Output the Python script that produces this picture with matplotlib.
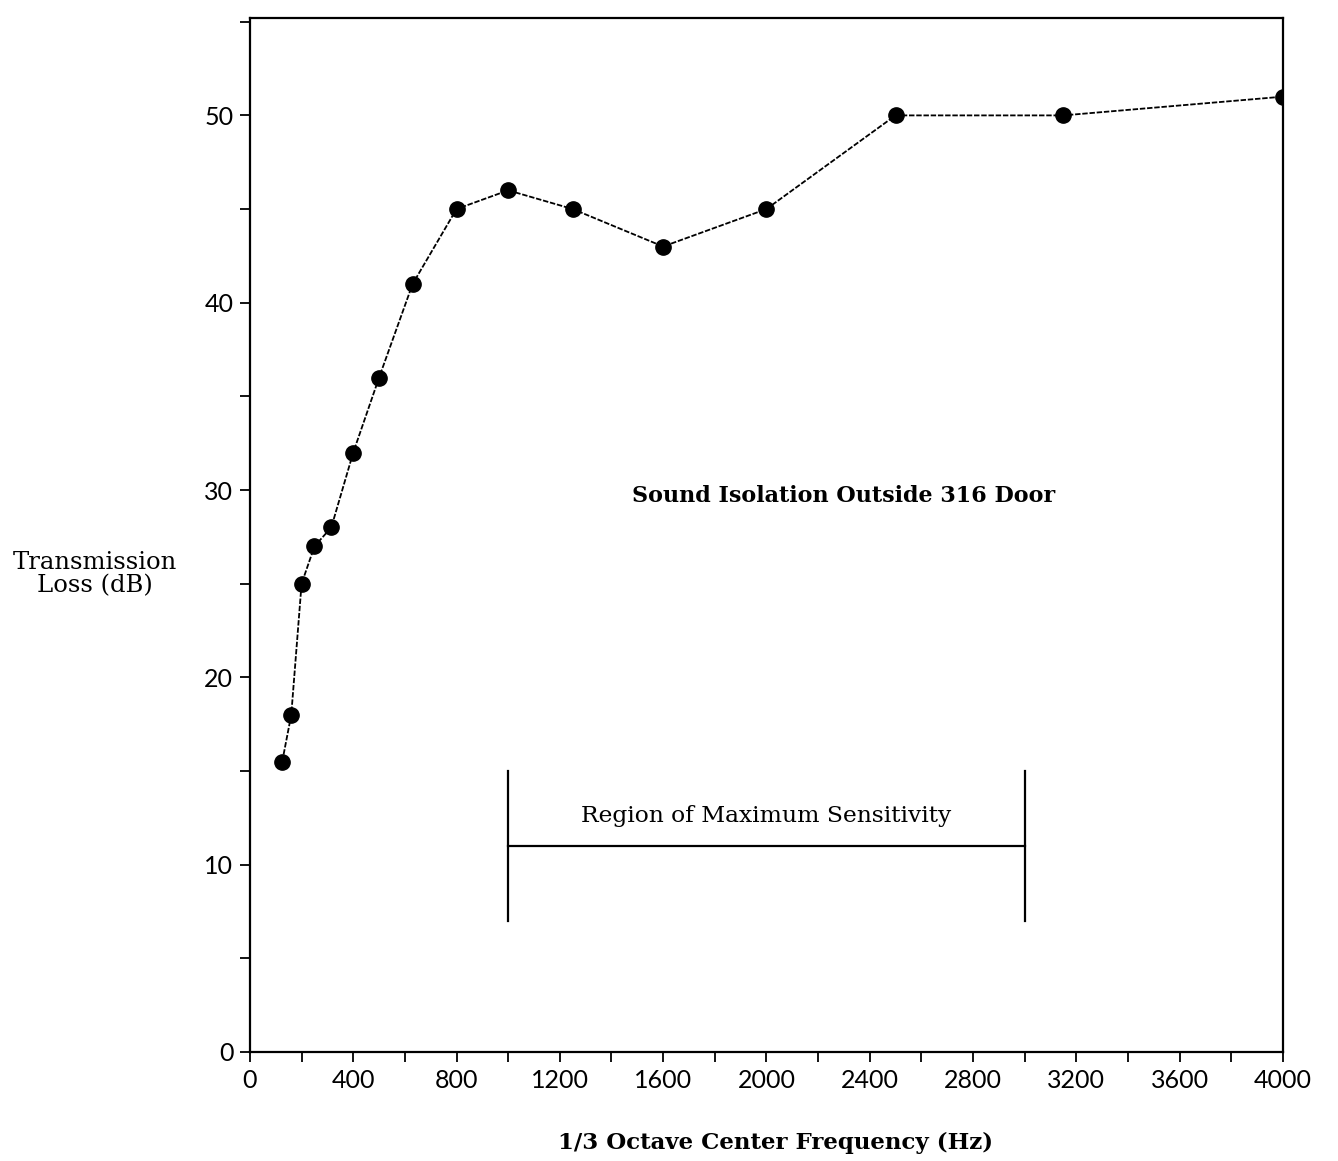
import matplotlib
matplotlib.use("Agg")
import matplotlib.pyplot as plt
from matplotlib.ticker import MultipleLocator

freq = [125, 160, 200, 250, 315, 400, 500, 630, 800, 1000, 1250, 1600, 2000, 2500, 3150, 4000]
tl = [15.5, 18, 25, 27, 28, 32, 36, 41, 45, 46, 45, 43, 45, 50, 50, 51]
region_x = [1000, 3000]
region_y = 11
region_ends = [7, 15]

fig = plt.figure(figsize=(13.38, 11.61), dpi=100)
ax = fig.add_axes([0.1868, 0.0939, 0.772, 0.8906])

ax.plot(freq, tl, linestyle=(0, (3, 1)), color="black", linewidth=1.3,
        marker="o", markersize=11, markerfacecolor="black", markeredgecolor="black")

# region bracket
ax.plot(region_x, [region_y, region_y], color="black", linewidth=1.6)
for xv in region_x:
    ax.plot([xv, xv], region_ends, color="black", linewidth=1.6)
ax.text(2000, 12.6, "Region of Maximum Sensitivity", ha="center", va="center",
        fontsize=16.8, family="DejaVu Serif")
ax.text(2300, 29.7, "Sound Isolation Outside 316 Door", ha="center", va="center",
        fontsize=16, family="DejaVu Serif", fontweight="bold")

ax.set_xlim(0, 4000)
ax.set_ylim(0, 55.2)
ax.xaxis.set_major_locator(MultipleLocator(400))
ax.xaxis.set_minor_locator(MultipleLocator(200))
ax.yaxis.set_major_locator(MultipleLocator(10))
ax.yaxis.set_minor_locator(MultipleLocator(5))
ax.tick_params(which="both", direction="out", length=7, width=1.3, color="black")
ax.tick_params(axis="both", labelsize=18, pad=5)
for lab in ax.get_xticklabels() + ax.get_yticklabels():
    lab.set_family("Lato")
for s in ax.spines.values():
    s.set_linewidth(1.6)

fig.text(95 / 1338, 1 - 574 / 1161, "Transmission\nLoss (dB)", ha="center", va="center",
         fontsize=17.5, family="DejaVu Serif", linespacing=1.05)
fig.text(775 / 1338, 1 - 1143 / 1161, "1/3 Octave Center Frequency (Hz)", ha="center",
         va="center", fontsize=16.5, family="DejaVu Serif", fontweight="bold")

fig.savefig("out.png", dpi=100)
